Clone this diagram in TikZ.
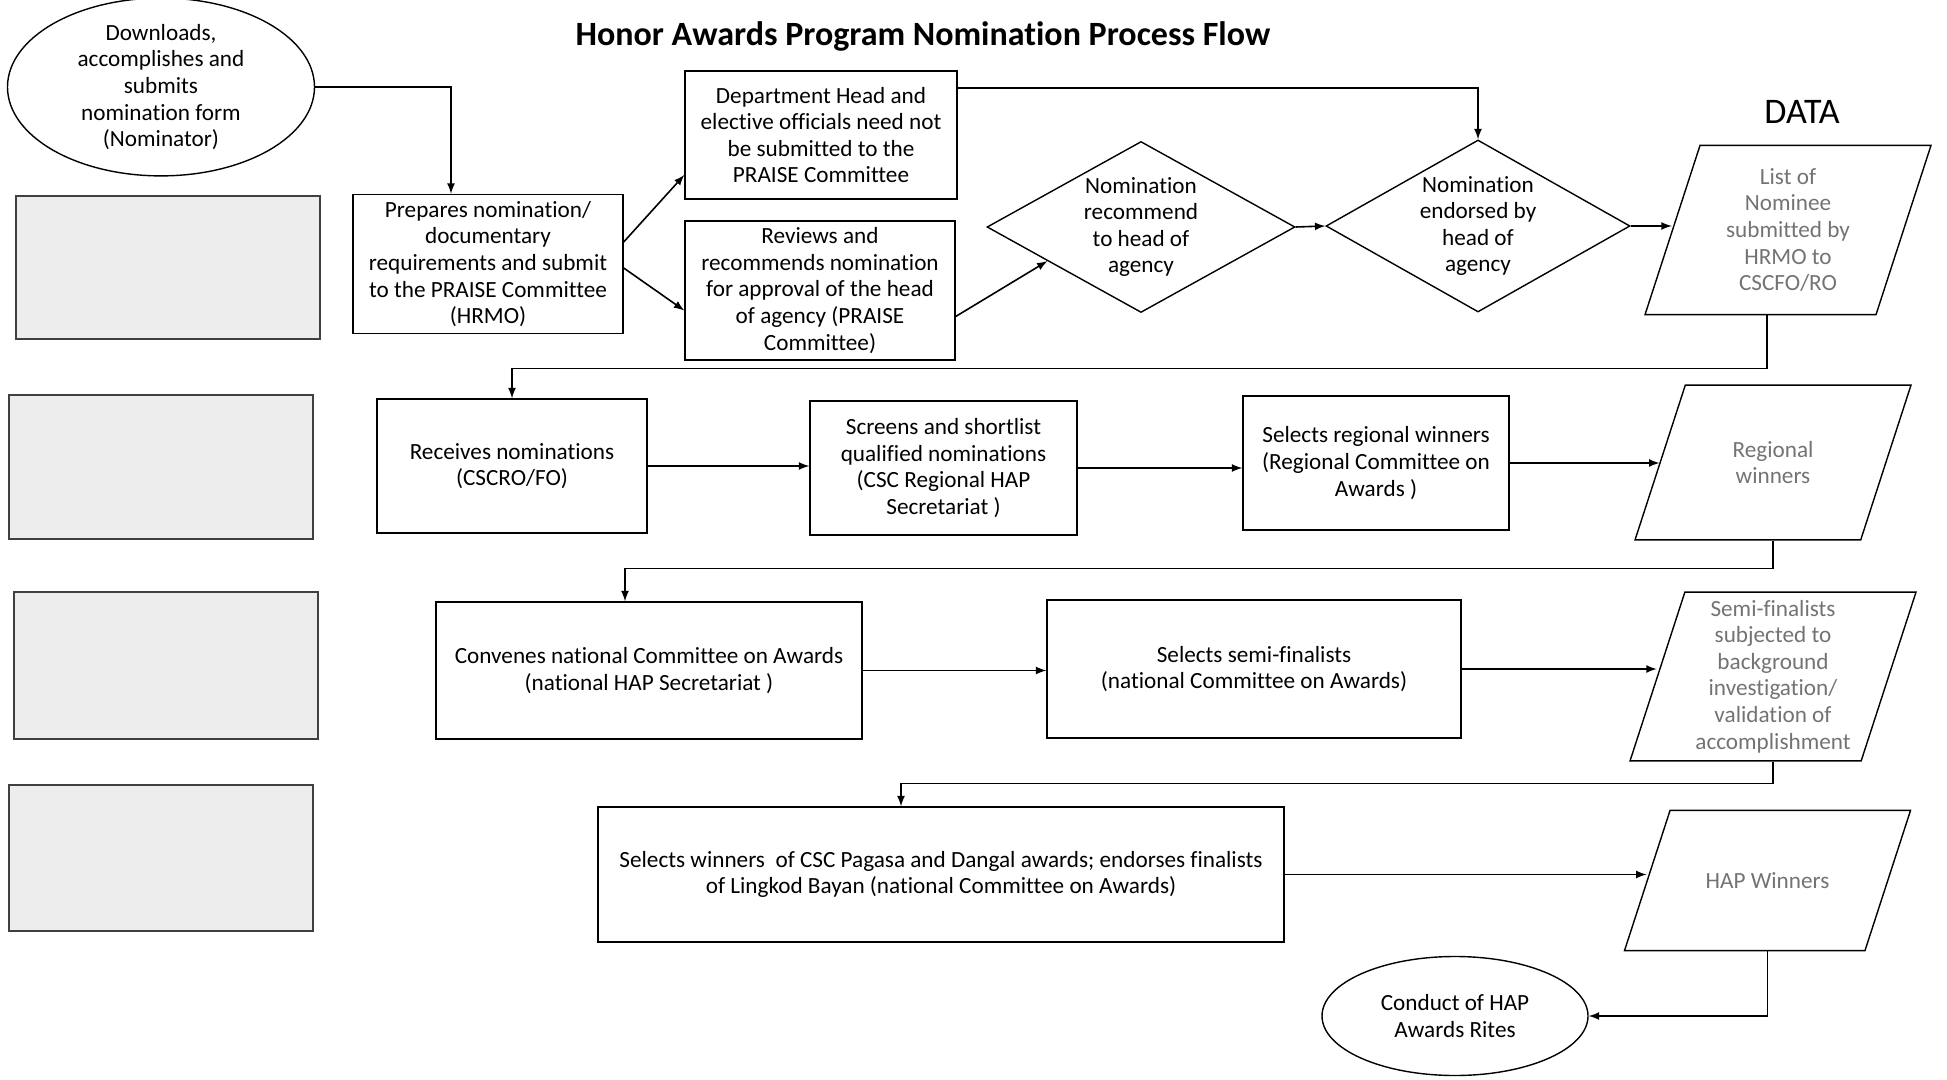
\documentclass[tikz,border=0pt]{standalone}
\usepackage{fontspec}
\setmainfont{Carlito}[Ligatures=NoCommon]
\usepackage{tikz}
\usetikzlibrary{positioning}
\usetikzlibrary{shapes,shapes.geometric}
\tikzstyle{heading} = [draw=none, fill=none, text centered]
\tikzstyle{startstop} = [ellipse, draw, text centered, align=center, inner sep=0pt]
\tikzstyle{procbox} = [rectangle, draw, text centered, align=center]
\tikzstyle{decision} = [diamond, aspect=1.8, draw, text centered, align=center, inner sep=0pt]
\tikzstyle{iodata} = [trapezium, trapezium left angle=72, trapezium right angle=108, trapezium stretches body, draw, align=center, text=black!55, inner xsep=0pt]
\tikzstyle{scanbox} = [rectangle, draw=black!75, fill=black!7]
\tikzstyle{flow} = [draw, line width=0.8pt, -latex]

\begin{document}
\begin{tikzpicture}[x=0.5pt, y=-0.5pt, font=\fontsize{11.6}{13.3}\selectfont, line width=0.7pt]
	\useasboundingbox (0,0) rectangle (1947,1080);
	% title node
	\node [heading, font=\fontsize{17}{20}\selectfont\bfseries] (N0) at (923,36) {Honor Awards Program Nomination Process Flow};
	% first row
	\node [startstop, minimum width=153.5pt, minimum height=74.5pt] (N1) at (161,87) {Downloads,\\accomplishes and\\submits\\nomination form\\(Nominator)};
	\node [scanbox, minimum width=152pt, minimum height=71.5pt]   (G1) at (168,267.5) {};
	\node [procbox, minimum width=135pt, minimum height=68pt]     (N2) at (488,264) {Prepares nomination/\\documentary\\requirements and submit\\to the PRAISE Committee\\(HRMO)};
	\node [procbox, minimum width=136pt, minimum height=64pt]     (N3) at (821,135) {Department Head and\\elective officials need not\\be submitted to the\\PRAISE Committee};
	\node [procbox, minimum width=135pt, minimum height=68.5pt]   (N4) at (820,290.5) {Reviews and\\recommends nomination\\for approval of the head\\of agency (PRAISE\\Committee)};
	\node [decision, minimum width=154pt, minimum height=85.5pt]  (N5) at (1141,227) {Nomination\\recommend\\to head of\\agency};
	\node [decision, minimum width=152pt, minimum height=86pt]    (N6) at (1478,226) {Nomination\\endorsed by\\head of\\agency};
	\node [heading, font=\fontsize{18}{20}\selectfont]            (N7) at (1802,112) {DATA};
	\node [iodata, minimum width=143pt, inner ysep=11.5pt]        (N8) at (1788,230) {List of\\Nominee\\submitted by\\HRMO to\\CSCFO/RO};
	% second row
	\node [scanbox, minimum width=152pt, minimum height=72pt]     (G2) at (161,467) {};
	\node [procbox, minimum width=135pt, minimum height=67pt]     (N9) at (512,466) {Receives nominations\\(CSCRO/FO)};
	\node [procbox, minimum width=133.5pt, minimum height=67pt]   (N10) at (943.5,468) {Screens and shortlist\\qualified nominations\\(CSC Regional HAP\\Secretariat )};
	\node [procbox, minimum width=133pt, minimum height=67pt]     (N11) at (1376,463) {Selects regional winners\\(Regional Committee on\\Awards )};
	\node [iodata, minimum width=138pt, inner ysep=28pt]          (N12) at (1773,462.5) {Regional\\winners};
	% third row
	\node [scanbox, minimum width=152pt, minimum height=73.5pt]   (G3) at (166,665.5) {};
	\node [procbox, minimum width=213pt, minimum height=68.5pt]   (N13) at (649,670.5) {Convenes national Committee on Awards\\(national HAP Secretariat )};
	\node [procbox, minimum width=207pt, minimum height=69pt]     (N14) at (1254,669) {Selects semi-finalists\\(national Committee on Awards)};
	\node [iodata, minimum width=143pt, inner ysep=4pt]           (N15) at (1773,676.5) {Semi-finalists\\subjected to\\background\\investigation/\\validation of\\accomplishment};
	% fourth row
	\node [scanbox, minimum width=152pt, minimum height=73pt]     (G4) at (161,858) {};
	\node [procbox, minimum width=343pt, minimum height=67.5pt]   (N16) at (941,874.5) {Selects winners~ of CSC Pagasa and Dangal awards; endorses finalists\\of Lingkod Bayan (national Committee on Awards)};
	\node [iodata, minimum width=143pt, inner ysep=31pt]          (N17) at (1767.5,880.5) {HAP Winners};
	\node [startstop, minimum width=133pt, minimum height=59.5pt] (N18) at (1455,1016) {Conduct of HAP\\Awards Rites};

	% draw edges
	\path [flow] (N1.east) -| ([xshift=-18.5pt]N2.north);
	\path [flow] ([yshift=11pt]N2.east) -- ([yshift=-20pt]N3.west);
	\path [flow] ([yshift=-2pt]N2.east) -- ([yshift=-10pt]N4.west);
	\path [flow] ([yshift=-13pt]N4.east) -- (N5.200);
	\path [flow] ([yshift=23.5pt]N3.east) -| (N6.north);
	\path [flow] (N5.east) -- (N6.west);
	\path [flow] (N6.east) -- (N6.east -| N8.west);
	\path [flow] ([xshift=-10.5pt]N8.south) -- ++(0,-26.5pt) -| (N9.north);
	\path [flow] (N9.east) -- (N9.east -| N10.west);
	\path [flow] (N10.east) -- (N10.east -| N11.west);
	\path [flow] (N11.east) -- (N11.east -| N12.west);
	\path [flow] (N12.south) -- ++(0,-14pt) -| ([xshift=-12pt]N13.north);
	\path [flow] (N13.east) -- (N13.east -| N14.west);
	\path [flow] (N14.east) -- (N14.east -| N15.west);
	\path [flow] (N15.south) -- ++(0,-11pt) -| ([xshift=-20pt]N16.north);
	\path [flow] (N16.east) -- (N16.east -| N17.west);
	\path [flow] (N17.south) |- (N18.east);
\end{tikzpicture}
\end{document}
